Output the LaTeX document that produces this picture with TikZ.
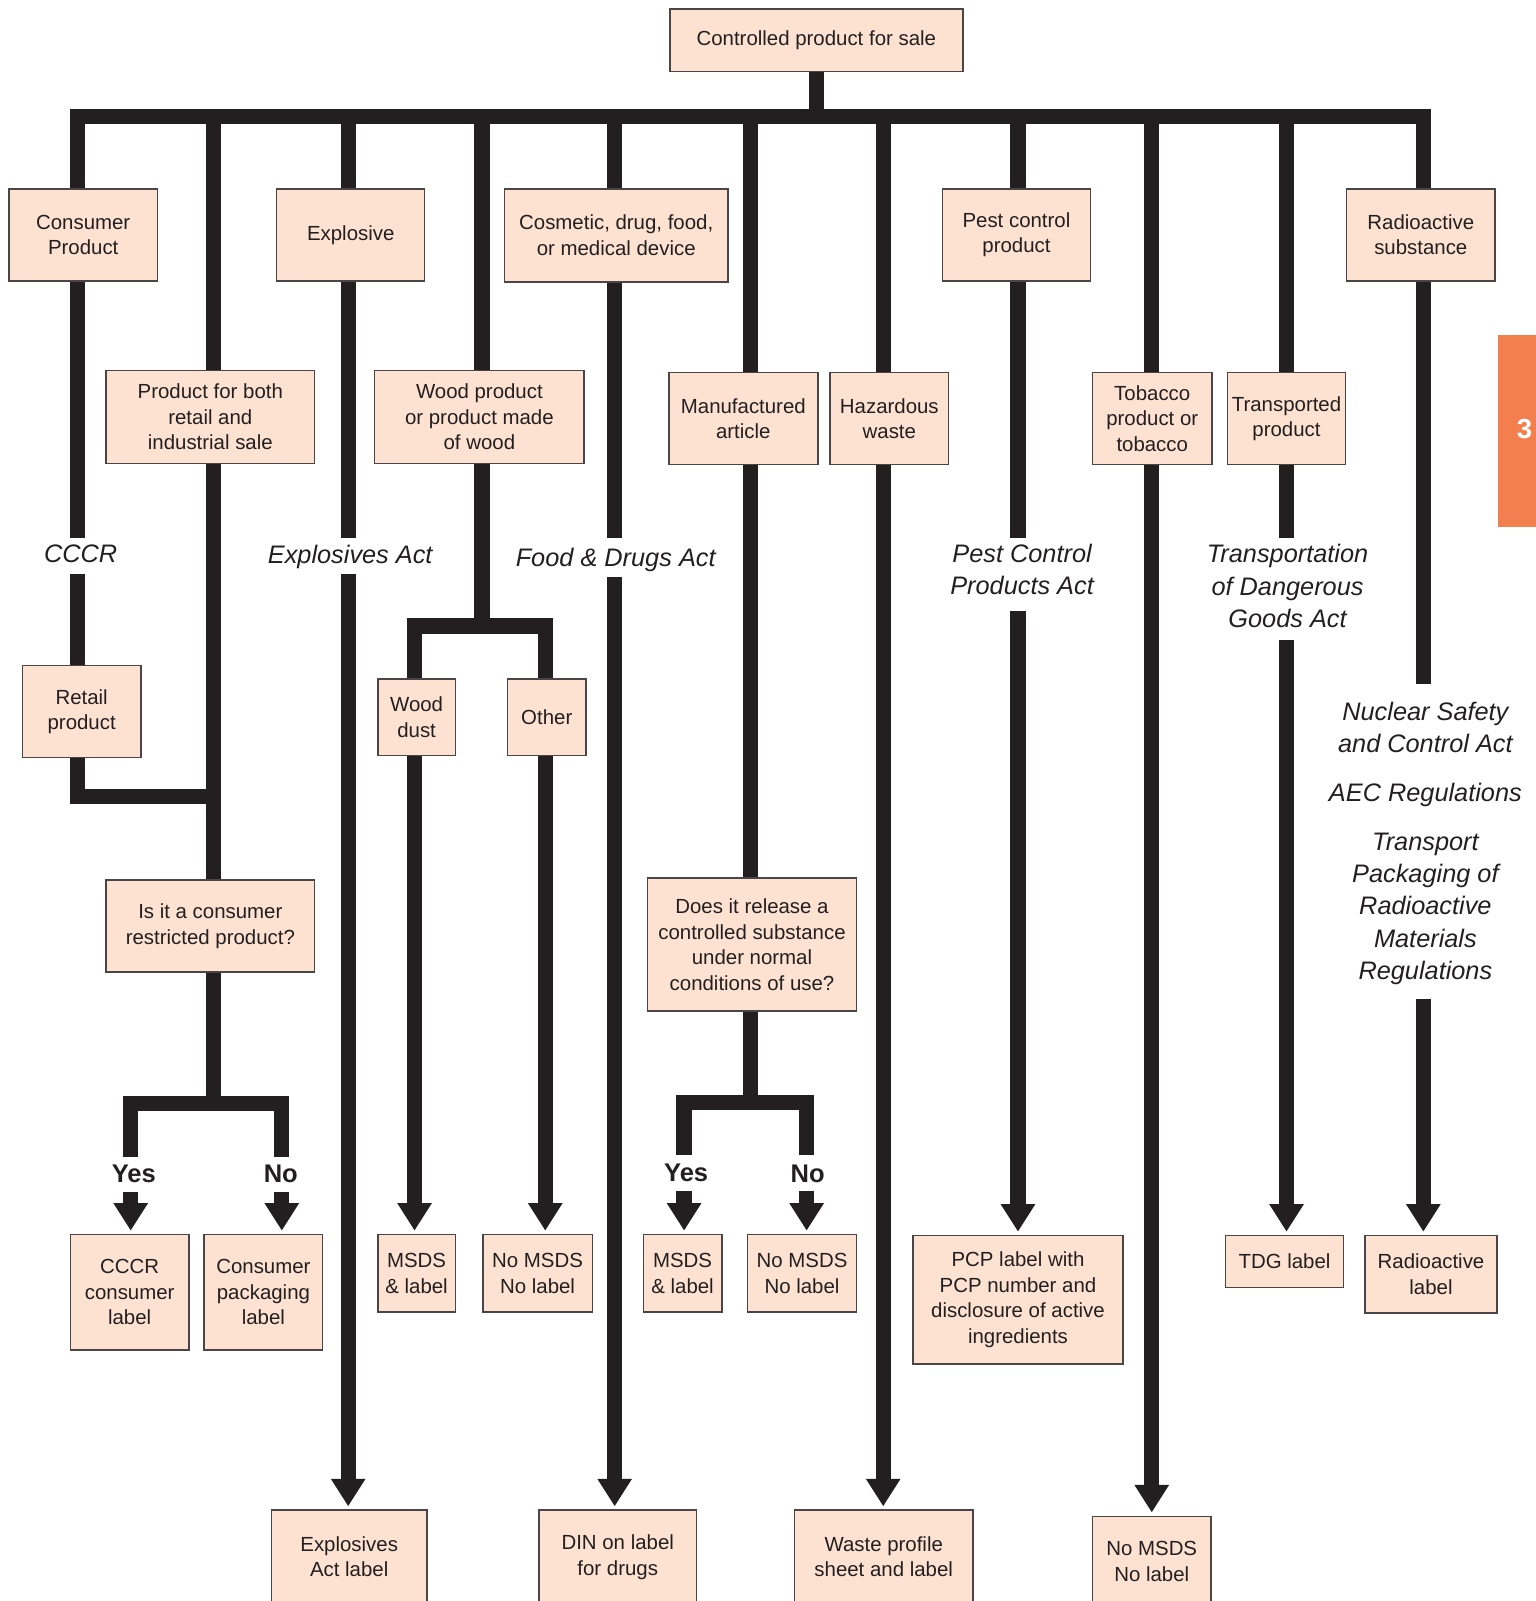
\documentclass[tikz,border=0pt]{standalone}
\usepackage{fontspec}
\setmainfont{Liberation Sans}
\usetikzlibrary{arrows.meta}
\definecolor{boxfill}{HTML}{FDE2D2}
\definecolor{boxdraw}{HTML}{4A4647}
\definecolor{linec}{HTML}{231F20}
\definecolor{tabc}{HTML}{F37F4E}
\begin{document}
\begin{tikzpicture}[x=0.5pt,y=-0.5pt,
  box/.style={draw=boxdraw, line width=0.7pt, fill=boxfill, align=center, inner sep=0pt,
    text=linec, font=\fontsize{10}{12.5}\selectfont},
  lbl/.style={align=center, inner sep=0pt, text=linec, font=\fontsize{12.4}{15.75}\selectfont\itshape},
  yn/.style={inner sep=0pt, text=linec, font=\fontsize{12.5}{15}\selectfont\bfseries},
  conn/.style={draw=linec, line width=7.5pt, line join=miter},
  arr/.style={conn, -{Triangle[width=16pt,length=13.5pt]}, shorten >=1.5pt}]
\useasboundingbox (0,0) rectangle (1504,1568);

% boxes
\node[box, minimum width=143.5pt, minimum height=30.5pt] (top) at (799.5,39.5) {Controlled product for sale};
\node[box, minimum width=72.5pt, minimum height=45pt] (cp) at (81.5,230) {Consumer\\Product};
\node[box, minimum width=72.5pt, minimum height=45pt] (ex) at (343.5,230) {Explosive};
\node[box, minimum width=109.5pt, minimum height=45.5pt] (cos) at (603.5,230.5) {Cosmetic, drug, food,\\or medical device};
\node[box, minimum width=72.5pt, minimum height=45pt] (pest) at (995.5,230) {Pest control\\product};
\node[box, minimum width=72.5pt, minimum height=45pt] (rad) at (1391.5,230) {Radioactive\\substance};

\node[box, minimum width=102pt, minimum height=45.5pt] (both) at (206,408.5) {Product for both\\retail and\\industrial sale};
\node[box, minimum width=102.5pt, minimum height=45.5pt] (wood) at (469.5,408.5) {Wood product\\or product made\\of wood};
\node[box, minimum width=73pt, minimum height=45pt] (manu) at (728,410) {Manufactured\\article};
\node[box, minimum width=58pt, minimum height=45pt] (haz) at (871,410) {Hazardous\\waste};
\node[box, minimum width=58.5pt, minimum height=45pt] (tob) at (1128.5,410) {Tobacco\\product or\\tobacco};
\node[box, minimum width=58pt, minimum height=45pt] (trans) at (1260,410) {Transported\\product};

\node[box, minimum width=58pt, minimum height=45pt] (retail) at (80,697) {Retail\\product};
\node[box, minimum width=38pt, minimum height=37.5pt] (wdust) at (408,702.5) {Wood\\dust};
\node[box, minimum width=38.5pt, minimum height=37.5pt] (other) at (535.5,702.5) {Other};
\node[box, minimum width=102pt, minimum height=45pt] (restr) at (206,907) {Is it a consumer\\restricted product?};
\node[box, minimum width=102.5pt, minimum height=65pt] (rel) at (736.5,925) {Does it release a\\controlled substance\\under normal\\conditions of use?};

\node[box, minimum width=58pt, minimum height=56.5pt] (cccrl) at (127,1265.5) {CCCR\\consumer\\label};
\node[box, minimum width=58pt, minimum height=56.5pt] (cpl) at (258,1265.5) {Consumer\\packaging\\label};
\node[box, minimum width=38pt, minimum height=38pt] (msds1) at (408,1247) {MSDS\\\& label};
\node[box, minimum width=53.5pt, minimum height=38pt] (nomsds1) at (526.5,1247) {No MSDS\\No label};
\node[box, minimum width=38.5pt, minimum height=38pt] (msds2) at (668.5,1247) {MSDS\\\& label};
\node[box, minimum width=53.5pt, minimum height=38pt] (nomsds2) at (785.5,1247) {No MSDS\\No label};
\node[box, minimum width=103pt, minimum height=63pt] (pcp) at (997,1273) {PCP label with\\PCP number and\\disclosure of active\\ingredients};
\node[box, minimum width=58pt, minimum height=25.5pt] (tdg) at (1258,1235.5) {TDG label};
\node[box, minimum width=64.5pt, minimum height=38pt] (radl) at (1401.5,1248) {Radioactive\\label};

\node[box, minimum width=76pt, minimum height=45.5pt] (exl) at (342,1524.5) {Explosives\\Act label};
\node[box, minimum width=77pt, minimum height=46pt] (din) at (605,1525) {DIN on label\\for drugs};
\node[box, minimum width=87.5pt, minimum height=45.5pt] (waste) at (865.5,1524.5) {Waste profile\\sheet and label};
\node[box, minimum width=58pt, minimum height=44.5pt] (nomsds3) at (1128,1529.5) {No MSDS\\No label};

% labels
\node[lbl] (cccr) at (79,542) {CCCR};
\node[lbl] (expa) at (343,545) {Explosives Act};
\node[lbl] (fda) at (603,548) {Food \& Drugs Act};
\node[lbl] (pcpa) at (1001,558) {Pest Control\\Products Act};
\node[lbl] (tdga) at (1261,574) {Transportation\\of Dangerous\\Goods Act};
\node[lbl] (nsca) at (1396,826) {Nuclear Safety\\and Control Act\\[8.2pt]AEC Regulations\\[8.2pt]Transport\\Packaging of\\Radioactive\\Materials\\Regulations};
\node[yn] (yes1) at (131,1150) {Yes};
\node[yn] (no1) at (275,1150) {No};
\node[yn] (yes2) at (672,1149) {Yes};
\node[yn] (no2) at (791,1150) {No};

% side tab
\node[fill=tabc, inner sep=0pt, minimum width=18.5pt, minimum height=94pt, anchor=north west] (tab) at (1467,328) {};
\node[text=white, inner sep=0pt, font=\fontsize{13.5}{16}\selectfont\bfseries] (tabnum) at (1493,420) {3};

% coordinates
\coordinate (k1) at (76,114);
\coordinate (k2) at (209,114);
\coordinate (k3) at (341,114);
\coordinate (k4) at (472,114);
\coordinate (k5) at (602,114);
\coordinate (k6) at (735,114);
\coordinate (k7) at (865,114);
\coordinate (k8) at (997,114);
\coordinate (k9) at (1128,114);
\coordinate (k10) at (1260,114);
\coordinate (k11) at (1394,114);
\coordinate (g1a) at (76,527); \coordinate (g1b) at (76,562);
\coordinate (g3a) at (341,527); \coordinate (g3b) at (341,562);
\coordinate (g5a) at (602,527); \coordinate (g5b) at (602,565);
\coordinate (g8a) at (997,527); \coordinate (g8b) at (997,598);
\coordinate (g10a) at (1260,527); \coordinate (g10b) at (1260,627);
\coordinate (g11a) at (1394,670); \coordinate (g11b) at (1394,978);
\coordinate (e1) at (209,780);
\coordinate (f1) at (209,1081); \coordinate (f1l) at (128,1081); \coordinate (f1r) at (276,1081);
\coordinate (y1a) at (128,1133); \coordinate (y1b) at (128,1167);
\coordinate (n1a) at (276,1133); \coordinate (n1b) at (276,1167);
\coordinate (f2) at (472,613); \coordinate (f2l) at (406,613); \coordinate (f2r) at (534,613);
\coordinate (f3) at (735,1080); \coordinate (f3l) at (670,1080); \coordinate (f3r) at (790,1080);
\coordinate (y2a) at (670,1131); \coordinate (y2b) at (670,1166);
\coordinate (n2a) at (790,1131); \coordinate (n2b) at (790,1166);

% main trunk
\draw[conn] (top.south) -- (top.south |- k1);
\draw[conn, line cap=rect] (k1) -- (k11);

% column 1
\draw[conn] (k1) -- (k1 |- cp.north);
\draw[conn] (k1 |- cp.south) -- (g1a);
\draw[conn] (g1b) -- (k1 |- retail.north);
\draw[conn] (k1 |- retail.south) |- (e1);
% column 2
\draw[conn] (k2) -- (k2 |- both.north);
\draw[conn] (k2 |- both.south) -- (k2 |- restr.north);
\draw[conn] (k2 |- restr.south) -- (f1);
\draw[conn] (y1a) -- (f1l) -- (f1r) -- (n1a);
\draw[arr] (y1b) -- (y1b |- cccrl.north);
\draw[arr] (n1b) -- (n1b |- cpl.north);
% column 3
\draw[conn] (k3) -- (k3 |- ex.north);
\draw[conn] (k3 |- ex.south) -- (g3a);
\draw[arr] (g3b) -- (k3 |- exl.north);
% column 4
\draw[conn] (k4) -- (k4 |- wood.north);
\draw[conn] (k4 |- wood.south) -- (f2);
\draw[conn] (f2l |- wdust.north) -- (f2l) -- (f2r) -- (f2r |- other.north);
\draw[arr] (f2l |- wdust.south) -- (f2l |- msds1.north);
\draw[arr] (f2r |- other.south) -- (f2r |- nomsds1.north);
% column 5
\draw[conn] (k5) -- (k5 |- cos.north);
\draw[conn] (k5 |- cos.south) -- (g5a);
\draw[arr] (g5b) -- (k5 |- din.north);
% column 6
\draw[conn] (k6) -- (k6 |- manu.north);
\draw[conn] (k6 |- manu.south) -- (k6 |- rel.north);
\draw[conn] (k6 |- rel.south) -- (f3);
\draw[conn] (y2a) -- (f3l) -- (f3r) -- (n2a);
\draw[arr] (y2b) -- (y2b |- msds2.north);
\draw[arr] (n2b) -- (n2b |- nomsds2.north);
% column 7
\draw[conn] (k7) -- (k7 |- haz.north);
\draw[arr] (k7 |- haz.south) -- (k7 |- waste.north);
% column 8
\draw[conn] (k8) -- (k8 |- pest.north);
\draw[conn] (k8 |- pest.south) -- (g8a);
\draw[arr] (g8b) -- (k8 |- pcp.north);
% column 9
\draw[conn] (k9) -- (k9 |- tob.north);
\draw[arr] (k9 |- tob.south) -- (k9 |- nomsds3.north);
% column 10
\draw[conn] (k10) -- (k10 |- trans.north);
\draw[conn] (k10 |- trans.south) -- (g10a);
\draw[arr] (g10b) -- (k10 |- tdg.north);
% column 11
\draw[conn] (k11) -- (k11 |- rad.north);
\draw[conn] (k11 |- rad.south) -- (g11a);
\draw[arr] (g11b) -- (k11 |- radl.north);
\end{tikzpicture}
\end{document}
